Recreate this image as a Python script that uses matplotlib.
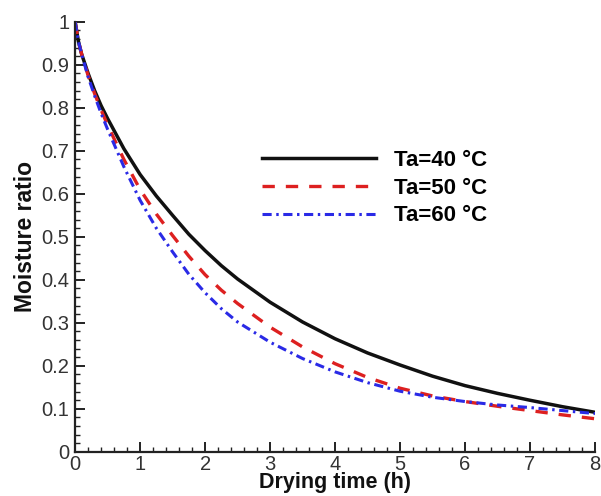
import matplotlib
matplotlib.use("Agg")
import matplotlib.pyplot as plt
from matplotlib.ticker import MultipleLocator, FuncFormatter

# drying time (h) and moisture ratio
time_h = [0, 0.05, 0.1, 0.2, 0.3, 0.4, 0.5, 0.75, 1.0, 1.25, 1.5, 1.75, 2.0,
          2.25, 2.5, 3.0, 3.5, 4.0, 4.5, 5.0, 5.5, 6.0, 6.5, 7.0, 7.5, 8.0]
mr_40 = [1.0, 0.955, 0.925, 0.88, 0.84, 0.805, 0.775, 0.705, 0.645, 0.595,
         0.55, 0.506, 0.468, 0.433, 0.402, 0.348, 0.302, 0.263, 0.230, 0.202,
         0.176, 0.154, 0.136, 0.120, 0.105, 0.092]
mr_50 = [1.0, 0.955, 0.925, 0.875, 0.833, 0.795, 0.76, 0.68, 0.61, 0.553,
         0.503, 0.455, 0.412, 0.376, 0.345, 0.29, 0.244, 0.205, 0.173, 0.148,
         0.13, 0.117, 0.106, 0.096, 0.086, 0.077]
mr_60 = [1.0, 0.955, 0.925, 0.872, 0.828, 0.787, 0.75, 0.663, 0.585, 0.52,
         0.465, 0.413, 0.37, 0.333, 0.302, 0.255, 0.217, 0.186, 0.161, 0.141,
         0.127, 0.117, 0.109, 0.103, 0.096, 0.089]
labels = ["Ta=40 °C", "Ta=50 °C", "Ta=60 °C"]

plt.rcParams['font.family'] = ['Liberation Sans', 'DejaVu Sans']

fig = plt.figure(figsize=(6.01, 4.96), dpi=100)
ax = fig.add_axes([0.125, 0.089, 0.865, 0.867])

ax.plot(time_h, mr_40, color='#111111', lw=2.5, ls='-', label=labels[0])
ax.plot(time_h, mr_50, color='#dd2020', lw=2.4, ls=(0, (3.7, 3.3)), label=labels[1])
ax.plot(time_h, mr_60, color='#2a2ae6', lw=2.2, ls=(0, (3.0, 1.5, 0.8, 1.5)),
        label=labels[2])

ax.set_xlim(0, 8)
ax.set_ylim(0, 1)
ax.xaxis.set_major_locator(MultipleLocator(1))
ax.xaxis.set_minor_locator(MultipleLocator(0.2))
ax.yaxis.set_major_locator(MultipleLocator(0.1))
ax.yaxis.set_minor_locator(MultipleLocator(0.02))
fmt = FuncFormatter(lambda v, p: '%g' % round(v, 2))
ax.xaxis.set_major_formatter(fmt)
ax.yaxis.set_major_formatter(fmt)

for side in ['top', 'right']:
    ax.spines[side].set_visible(False)
for side in ['left', 'bottom']:
    ax.spines[side].set_linewidth(1.6)
    ax.spines[side].set_color('#222222')

ax.tick_params(which='major', direction='in', length=7, width=1.4,
               labelsize=14.5, labelcolor='#333333', color='#222222', pad=4)
ax.tick_params(axis='x', which='major', pad=2)
ax.tick_params(which='minor', direction='in', length=3.5, width=1.0, color='#222222')

ax.set_xlabel('Drying time (h)', fontsize=15.5, fontweight='bold', labelpad=-1,
              color='#111111')
ax.set_ylabel('Moisture ratio', fontsize=16.5, fontweight='bold', labelpad=3,
              color='#111111')

ax.legend(loc='upper left', bbox_to_anchor=(0.36, 0.702), frameon=False,
          prop={'weight': 'bold', 'size': 16}, handlelength=5.13,
          handletextpad=0.8, labelspacing=0.3, borderpad=0, borderaxespad=0)

fig.savefig('out.png', dpi=100)
